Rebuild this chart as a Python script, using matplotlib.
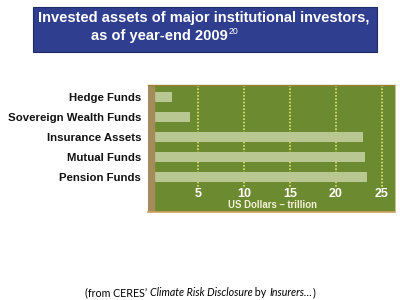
import matplotlib
matplotlib.use("Agg")
import matplotlib.pyplot as plt
from matplotlib.patches import Rectangle

categories = ["Hedge Funds", "Sovereign Wealth Funds", "Insurance Assets", "Mutual Funds", "Pension Funds"]
values = [2.2, 4.1, 22.9, 23.2, 23.4]
xticks = [5, 10, 15, 20, 25]
xlabel = "US Dollars \u2013 trillion"
title1 = "Invested assets of major institutional investors,"
title2 = "as of year-end 2009"
title_sup = "20"
caption_parts = [("(from CERES\u2019 ", "normal"), ("Climate Risk Disclosure", "italic"),
                 (" by ", "normal"), ("Insurers\u2026", "italic"), (")", "normal")]

FONT = ["Liberation Sans", "DejaVu Sans"]
GREEN = "#6c8a2f"
BAR = "#b9c892"
GRID = "#dde36a"
TAN = "#a38b5c"
BLUE = "#2f3e8f"

fig = plt.figure(figsize=(4, 3), dpi=100)
fig.patch.set_facecolor("white")
fig.canvas.draw()
r = fig.canvas.get_renderer()


def fit(t, target_w):
    w = t.get_window_extent(r).width
    t.set_fontsize(t.get_fontsize() * target_w / w)
    return t.get_fontsize()


# Title box
fig.patches.append(Rectangle((33/400, 1-52/300), 344/400, 45/300, transform=fig.transFigure,
                             facecolor=BLUE, edgecolor="#1f2a66", linewidth=0.8))
t1 = fig.text(38/400, 1-18/300, title1, color="white", fontsize=10, fontweight="bold",
              family=FONT, ha="left", va="center")
fs = fit(t1, 332)
t2 = fig.text(91/400, 1-36/300, title2, color="white", fontsize=fs, fontweight="bold",
              family=FONT, ha="left", va="center")
bb = t2.get_window_extent(r)
fig.text(bb.x1/400 + 0.002, 1-32/300, title_sup, color="white", fontsize=fs*0.6,
         family=FONT, ha="left", va="center")

L, R, T, B = 148, 395, 85, 212
ax = fig.add_axes([L/400, 1-B/300, (R-L)/400, (B-T)/300])
ax.set_facecolor(GREEN)
x0 = (L-152)/9.2
x1 = x0 + (R-L)/9.2
ax.set_xlim(x0, x1)
ypos = list(range(len(categories)))
ytop = -(97-T)/20
ybot = (B-97)/20
ax.set_ylim(ybot, ytop)
ax.vlines(xticks, ytop, 4.5, colors=GRID, linestyles=(0, (1, 1)), linewidth=1.2, zorder=1)
ax.barh(ypos, values, height=0.5, color=BAR, zorder=2)
ax.axvspan(x0, 2/9.2, color=TAN, zorder=3)
for s in ax.spines.values():
    s.set_visible(False)
ax.set_xticks([])
ax.set_yticks(ypos)
probe = fig.text(0, 0, categories[1], fontsize=9, fontweight="bold", family=FONT)
lfs = fit(probe, 133)
probe.remove()
ax.set_yticklabels(categories, fontsize=lfs, fontweight="bold", family=FONT, color="#111111")
ax.tick_params(axis="y", length=0, pad=5)
for t in xticks:
    ax.text(t, 4.85, str(t), color="white", fontsize=9, fontweight="bold", family=FONT,
            ha="center", va="center", zorder=4)
xl = ax.text(13.15, 5.38, xlabel, color="#f4f0d8", fontsize=8, fontweight="bold", family=FONT,
             ha="center", va="center", zorder=4)
fit(xl, 89)
ax.plot([x0, x1], [ybot, ybot], color="#d0a060", linewidth=1.2, clip_on=False, zorder=5)
ax.plot([x0, x1], [ytop, ytop], color="#9a8030", linewidth=1.0, clip_on=False, zorder=5)
ax.plot([x1, x1], [ytop, ybot], color="#c8c090", linewidth=0.8, clip_on=False, zorder=5)

# Caption with mixed styles, centered
texts = []
for s, st in caption_parts:
    texts.append(fig.text(0, 1-293/300, s, fontsize=7, style=st, family=["Lato", "DejaVu Sans"],
                          color="black", ha="left", va="center"))
widths = [t.get_window_extent(r).width for t in texts]
scale = 230 / sum(widths)
for t in texts:
    t.set_fontsize(7 * scale)
widths = [t.get_window_extent(r).width for t in texts]
x = 200 - sum(widths)/2
for t, w in zip(texts, widths):
    t.set_x(x/400)
    x += w

fig.savefig("out.png", dpi=100)
